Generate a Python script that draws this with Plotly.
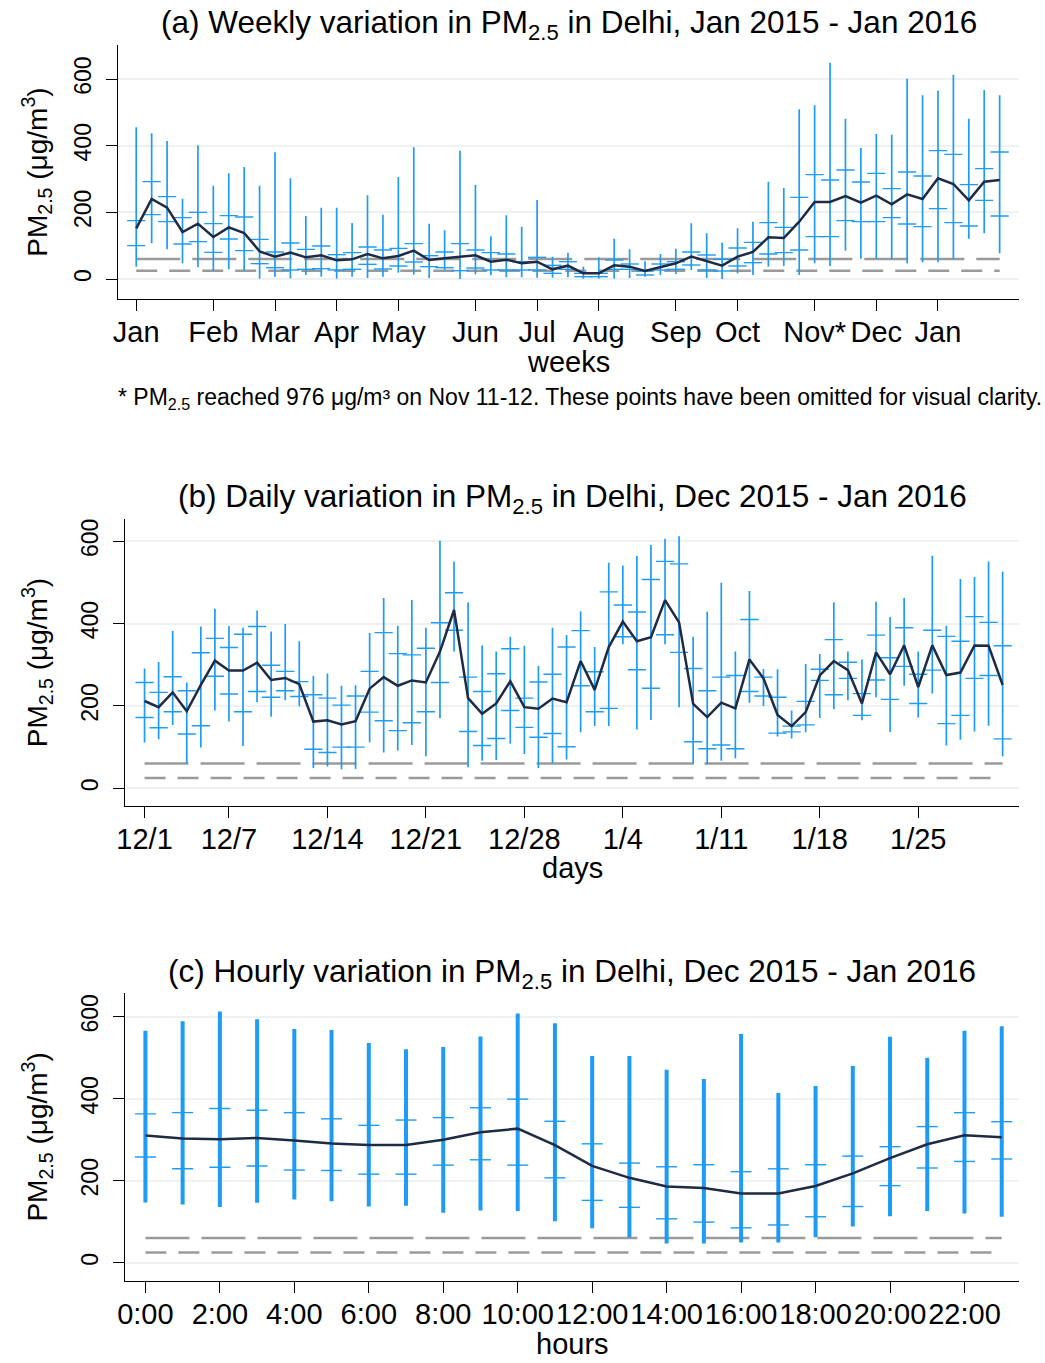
import plotly.graph_objects as go

# ---------------- data ----------------
standards = [60, 25]  # reference levels (µg/m3)

# (a) weekly, Jan 2015 - Jan 2016 (57 weeks)
week_idx = list(range(57))
week_tickvals = [0, 5, 9, 13, 17, 22, 26, 30, 35, 39, 44, 48, 52]
week_ticktext = ["Jan", "Feb", "Mar", "Apr", "May", "Jun", "Jul", "Aug", "Sep", "Oct", "Nov*", "Dec", "Jan"]
week_mean = [152, 240, 214, 141, 166, 126, 155, 138, 83, 67, 79, 65, 71, 56, 59, 75, 62, 69, 85, 57,
             62, 67, 71, 52, 58, 47, 52, 29, 40, 17, 17, 41, 37, 24, 35, 47, 67, 53, 40, 67,
             81, 125, 123, 172, 231, 231, 249, 229, 250, 224, 254, 240, 302, 285, 236, 292, 297]
week_hi = [455, 437, 414, 241, 401, 280, 317, 336, 280, 380, 302, 189, 214, 214, 168, 251, 193, 306, 395, 166,
           146, 385, 282, 128, 191, 157, 237, 67, 79, 37, 65, 121, 89, 53, 75, 91, 167, 137, 109, 152,
           172, 292, 273, 509, 521, 649, 481, 393, 435, 433, 601, 551, 565, 613, 481, 567, 551]
week_lo = [37, 107, 89, 47, 35, 25, 29, 25, 1, 7, 2, 12, 7, 1, 7, 3, 7, 19, 13, 3,
           27, 0, 14, 11, 5, 5, 4, 4, 5, 1, 1, 1, 3, 7, 12, 15, 27, 3, 0, 17,
           12, 37, 39, 12, 47, 39, 85, 61, 61, 59, 47, 50, 50, 59, 121, 137, 77]
week_q3 = [175, 292, 247, 184, 200, 166, 190, 186, 119, 81, 108, 89, 99, 73, 79, 96, 87, 92, 106, 70,
           81, 106, 87, 79, 75, 52, 65, 41, 52, 17, 17, 57, 45, 24, 45, 52, 81, 72, 59, 93,
           110, 169, 155, 245, 313, 297, 327, 291, 317, 271, 321, 309, 385, 374, 283, 331, 381]
week_q1 = [100, 193, 172, 105, 112, 80, 120, 85, 46, 34, 27, 29, 31, 27, 29, 44, 30, 39, 51, 37,
           34, 25, 33, 27, 27, 27, 27, 17, 29, 7, 7, 29, 29, 12, 27, 29, 42, 27, 24, 39,
           49, 75, 79, 87, 127, 127, 175, 172, 172, 184, 165, 157, 211, 169, 159, 236, 189]

# (b) daily, Dec 2015 - Jan 2016 (62 days)
day_idx = list(range(62))
day_tickvals = [0, 6, 13, 20, 27, 34, 41, 48, 55]
day_ticktext = ["12/1", "12/7", "12/14", "12/21", "12/28", "1/4", "1/11", "1/18", "1/25"]
day_mean = [212, 197, 233, 187, 251, 310, 286, 286, 305, 263, 268, 253, 162, 165, 155, 163, 242, 270, 249, 262,
            257, 332, 433, 219, 181, 206, 260, 197, 193, 218, 209, 309, 239, 343, 405, 357, 367, 457, 403, 205,
            173, 208, 194, 313, 267, 178, 151, 185, 274, 309, 287, 206, 330, 277, 347, 246, 347, 275, 281, 347,
            346, 251]
day_hi = [291, 307, 382, 257, 393, 436, 394, 390, 432, 381, 399, 357, 273, 279, 249, 250, 377, 462, 395, 457,
          390, 601, 551, 451, 347, 332, 368, 346, 297, 390, 372, 430, 343, 548, 541, 564, 591, 606, 612, 368,
          429, 499, 332, 479, 290, 289, 189, 302, 326, 452, 332, 313, 453, 416, 462, 332, 565, 395, 508, 513,
          551, 526]
day_lo = [111, 119, 154, 61, 99, 189, 162, 103, 209, 174, 214, 199, 49, 53, 46, 47, 112, 87, 92, 105,
          78, 170, 332, 51, 67, 69, 108, 83, 49, 61, 70, 136, 151, 151, 350, 143, 166, 350, 197, 58,
          58, 67, 73, 208, 200, 126, 121, 136, 171, 192, 214, 165, 221, 137, 249, 172, 230, 104, 118, 138,
          152, 78]
day_q3 = [257, 233, 271, 237, 329, 364, 342, 374, 393, 299, 284, 259, 227, 219, 202, 224, 284, 378, 327, 324,
          340, 402, 475, 270, 235, 278, 339, 219, 258, 277, 343, 383, 283, 477, 445, 428, 507, 551, 545, 291,
          237, 270, 274, 410, 270, 221, 151, 211, 289, 361, 306, 230, 372, 317, 390, 277, 384, 369, 357, 417,
          403, 346]
day_q1 = [172, 147, 186, 132, 152, 272, 229, 186, 235, 221, 237, 223, 95, 87, 100, 100, 185, 164, 140, 159,
          186, 257, 384, 138, 104, 121, 189, 148, 124, 133, 101, 249, 186, 194, 368, 288, 243, 373, 330, 113,
          96, 105, 96, 235, 224, 134, 137, 154, 262, 227, 267, 177, 263, 216, 296, 206, 287, 157, 177, 267,
          274, 120]

# (c) hourly, Dec 2015 - Jan 2016 (24 hours)
hour_idx = list(range(24))
hour_tickvals = list(range(0, 24, 2))
hour_ticktext = ["0:00", "2:00", "4:00", "6:00", "8:00", "10:00", "12:00", "14:00", "16:00", "18:00", "20:00", "22:00"]
hour_mean = [310, 303, 301, 304, 298, 291, 287, 287, 300, 318, 327, 287, 236, 207, 186, 182, 169, 169, 187, 218, 255, 289, 311, 306]
hour_hi = [566, 589, 613, 594, 570, 568, 536, 521, 526, 552, 608, 584, 504, 504, 471, 448, 558, 414, 431, 480, 551, 500, 566, 577]
hour_lo = [147, 142, 136, 146, 154, 150, 137, 139, 122, 127, 126, 101, 84, 62, 47, 47, 49, 49, 62, 88, 113, 126, 120, 112]
hour_q3 = [363, 366, 376, 372, 366, 351, 335, 348, 354, 378, 399, 345, 290, 243, 234, 239, 222, 229, 239, 260, 283, 332, 366, 344]
hour_q1 = [258, 229, 233, 236, 226, 225, 216, 216, 238, 251, 238, 207, 152, 135, 107, 99, 85, 92, 112, 137, 188, 231, 247, 253]

y_tickvals = [0, 200, 400, 600]

# ---------------- styling ----------------
W, H = 1045, 1363
FONT = "Liberation Sans, Arial, Helvetica, sans-serif"
BLUE = "rgb(30,155,245)"
NAVY = "#1f2a44"
GRAY = "#9a9a9a"
GRID = "#edf1f1"


def px(xp):
    return xp / W


def py(yp):
    return 1 - yp / H


panels = [
    dict(x=week_idx, mean=week_mean, hi=week_hi, lo=week_lo, q3=week_q3, q1=week_q1,
         tv=week_tickvals, tt=week_ticktext, xr=[-1.18, 57.27], yr=[-60, 702],
         dom_x=[110, 1019], dom_y=[45, 299], wthick=1.7, tsize=13,
         title="(a) Weekly variation in PM<sub>2.5</sub> in Delhi, Jan 2015 - Jan 2016",
         title_y=25, xlabel="weeks", xlabel_y=362),
    dict(x=day_idx, mean=day_mean, hi=day_hi, lo=day_lo, q3=day_q3, q1=day_q1,
         tv=day_tickvals, tt=day_ticktext, xr=[-1.37, 62.18], yr=[-43, 654],
         dom_x=[117.3, 1019], dom_y=[519, 806], wthick=1.7, tsize=13,
         title="(b) Daily variation in PM<sub>2.5</sub> in Delhi, Dec 2015 - Jan 2016",
         title_y=499, xlabel="days", xlabel_y=868),
    dict(x=hour_idx, mean=hour_mean, hi=hour_hi, lo=hour_lo, q3=hour_q3, q1=hour_q1,
         tv=hour_tickvals, tt=hour_ticktext, xr=[-0.54, 23.47], yr=[-44, 658],
         dom_x=[117.3, 1019], dom_y=[993, 1280.7], wthick=4, tsize=15,
         title="(c) Hourly variation in PM<sub>2.5</sub> in Delhi, Dec 2015 - Jan 2016",
         title_y=973, xlabel="hours", xlabel_y=1344),
]

fig = go.Figure()
annotations = []
layout_axes = {}

for i, p in enumerate(panels):
    n = i + 1
    xa = "x" if n == 1 else f"x{n}"
    ya = "y" if n == 1 else f"y{n}"
    xs = p["x"]
    # reference lines
    for val, dash in zip(standards, ["44px,12px", "21px,12px"]):
        fig.add_trace(go.Scatter(x=[xs[0], xs[-1]], y=[val, val], mode="lines",
                                 line=dict(color=GRAY, width=2.5, dash=dash),
                                 xaxis=xa, yaxis=ya, showlegend=False, hoverinfo="skip"))
    # whiskers
    fig.add_trace(go.Scatter(
        x=xs, y=p["lo"], mode="markers",
        marker=dict(size=1, color="rgba(0,0,0,0)"),
        error_y=dict(type="data", symmetric=False,
                     array=[h - l for h, l in zip(p["hi"], p["lo"])],
                     arrayminus=[0] * len(xs), width=0, thickness=p["wthick"], color=BLUE),
        xaxis=xa, yaxis=ya, showlegend=False))
    # quartile ticks
    for arr in (p["q3"], p["q1"]):
        fig.add_trace(go.Scatter(
            x=xs, y=arr, mode="markers",
            marker=dict(symbol="line-ew", size=p["tsize"], line=dict(width=1.4, color=BLUE)),
            xaxis=xa, yaxis=ya, showlegend=False))
    # mean line
    fig.add_trace(go.Scatter(x=xs, y=p["mean"], mode="lines",
                             line=dict(color=NAVY, width=2.5),
                             xaxis=xa, yaxis=ya, showlegend=False))

    xkey = "xaxis" if n == 1 else f"xaxis{n}"
    ykey = "yaxis" if n == 1 else f"yaxis{n}"
    layout_axes[xkey] = dict(
        domain=[px(p["dom_x"][0]), px(p["dom_x"][1])], range=p["xr"], anchor=ya,
        tickmode="array", tickvals=p["tv"], ticktext=p["tt"], tickangle=0,
        ticks="outside", ticklen=11, tickwidth=1.3, tickcolor="black",
        showline=True, linecolor="black", linewidth=1.3,
        showgrid=False, zeroline=False, ticklabelstandoff=-4,
        tickfont=dict(size=29, color="black", family=FONT))
    layout_axes[ykey] = dict(
        domain=[py(p["dom_y"][1]), py(p["dom_y"][0])], range=p["yr"], anchor=xa,
        tickmode="array", tickvals=y_tickvals, tickangle=-90,
        ticks="outside", ticklen=11, tickwidth=1.3, tickcolor="black",
        showline=True, linecolor="black", linewidth=1.3,
        showgrid=True, gridcolor=GRID, gridwidth=1.5, zeroline=False,
        tickfont=dict(size=23, color="black", family=FONT), ticklabelstandoff=6)

    cx = (p["dom_x"][0] + p["dom_x"][1]) / 2
    annotations.append(dict(text=p["title"], x=px(cx), y=py(p["title_y"]), xref="paper", yref="paper",
                            xanchor="center", yanchor="middle", showarrow=False,
                            font=dict(size=31.5, color="black", family=FONT)))
    annotations.append(dict(text=p["xlabel"], x=px(cx), y=py(p["xlabel_y"]), xref="paper", yref="paper",
                            xanchor="center", yanchor="middle", showarrow=False,
                            font=dict(size=29, color="black", family=FONT)))
    cy = (p["dom_y"][0] + p["dom_y"][1]) / 2
    annotations.append(dict(text="PM<sub>2.5</sub> (μg/m<sup>3</sup>)", x=px(28), y=py(cy),
                            xref="paper", yref="paper", xanchor="center", yanchor="middle",
                            textangle=-90, showarrow=False,
                            font=dict(size=28, color="black", family=FONT)))

annotations.append(dict(text="* PM<sub>2.5</sub> reached 976 μg/m³ on Nov 11-12. These points have been omitted for visual clarity.",
                        x=px(576), y=py(398), xref="paper", yref="paper",
                        xanchor="center", yanchor="middle", showarrow=False,
                        font=dict(size=23, color="black", family=FONT)))

fig.update_layout(
    width=W, height=H, margin=dict(l=0, r=0, t=0, b=0),
    paper_bgcolor="white", plot_bgcolor="white",
    font=dict(family=FONT, color="black"),
    showlegend=False, annotations=annotations, **layout_axes)

fig.write_html("out.html",
               config={"displayModeBar": False, "responsive": False},
               post_script="document.body.style.margin='0px';document.body.style.padding='0px';"
                           "document.body.style.overflow='hidden';")
